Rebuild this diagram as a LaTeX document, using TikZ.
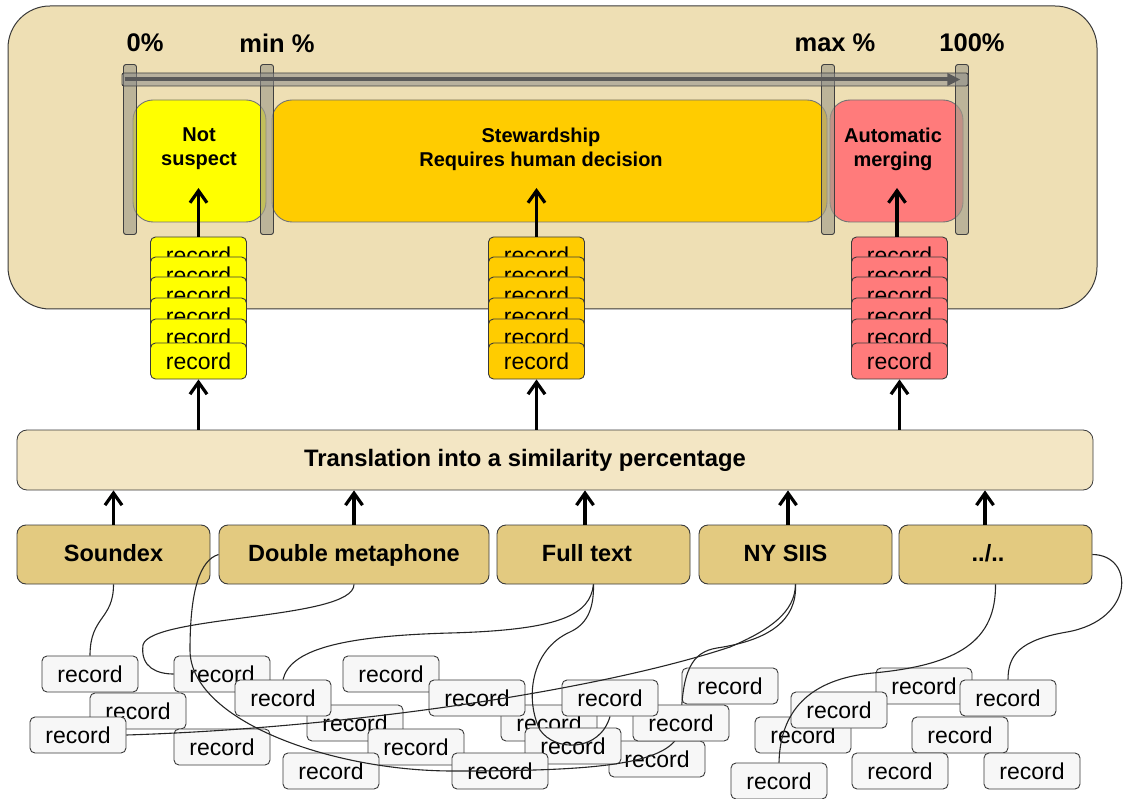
\documentclass[tikz,border=0pt]{standalone}
\usepackage{fontspec}
\setmainfont{Liberation Sans}
\usetikzlibrary{arrows.meta,calc}
\pgfdeclarelayer{front}
\pgfdeclarelayer{top}
\pgfsetlayers{main,front,top}
\definecolor{frameBeige}{HTML}{EEDFB4}
\definecolor{barBeige}{HTML}{F3E6C4}
\definecolor{methTan}{HTML}{E3CA80}
\definecolor{zoneYellow}{HTML}{FFFF00}
\definecolor{zoneOrange}{HTML}{FFCC00}
\definecolor{zoneRed}{HTML}{FF7B7B}
\definecolor{recFill}{HTML}{F7F7F7}
\definecolor{postGray}{HTML}{A29D8C}
\definecolor{edgeDark}{HTML}{3A3A3A}
\begin{document}
\begin{tikzpicture}[x=1pt,y=-1pt,
  arr/.style={line width=3.2pt,-{Straight Barb[length=12pt,width=17pt]}},
  conn/.style={draw=black!85,line width=1.1pt},
  recbox/.style={draw=edgeDark,line width=0.9pt,fill=recFill,rounded corners=5pt,
    minimum width=96pt,minimum height=36pt,inner sep=0pt,font=\fontsize{23}{27}\selectfont},
  stackcard/.style={recbox,fill=#1},
  meth/.style={draw=edgeDark,line width=0.9pt,fill=methTan,rounded corners=9pt,
    minimum height=59pt,inner sep=0pt,text height=17pt,text depth=4pt,
    font=\bfseries\fontsize{23.5}{27}\selectfont},
  zone/.style={draw=black!55,line width=0.9pt,fill=#1,rounded corners=20pt,
    minimum height=122pt,inner sep=0pt},
  post/.style={draw=black!75,line width=0.9pt,fill=postGray,fill opacity=0.65,
    rounded corners=2.5pt,minimum width=13pt,minimum height=170pt,inner sep=0pt},
  axlab/.style={font=\bfseries\fontsize{25.5}{30}\selectfont,inner sep=0pt},
  ztext/.style={font=\bfseries\fontsize{20}{24}\selectfont,align=center,inner sep=0pt}
]
\useasboundingbox (0,0) rectangle (1126,799);

% outer frame
\node[draw=edgeDark,line width=1pt,fill=frameBeige,rounded corners=42pt,
  minimum width=1089pt,minimum height=303pt,inner sep=0pt] (frame) at (552.5,157.5) {};

% zones
\node[zone=zoneYellow,minimum width=133pt] (zns) at (199.5,161) {};
\node[zone=zoneOrange,minimum width=555pt] (zst) at (549.5,161) {};
\node[zone=zoneRed,minimum width=133pt] (zam) at (896.5,161) {};

% posts
\node[post] (p0) at (130,149.5) {};
\node[post] (p1) at (267,149.5) {};
\node[post] (p2) at (828,149.5) {};
\node[post] (p3) at (962,149.5) {};

% axis bar
\node[draw=black!75,line width=0.9pt,fill=black!45,fill opacity=0.55,rounded corners=2pt,
  minimum width=846pt,minimum height=13pt,inner sep=0pt] (axis) at (545,79.5) {};
\draw[line width=4pt,black!65,-{Triangle[length=13pt,width=12pt]}]
  ($(axis.west)+(3,0)$) -- ($(axis.east)+(-8,0)$);

% axis labels
\node[axlab] (l0) at (145,43) {0\%};
\node[axlab] (lmin) at (277,43) {min \%};
\node[axlab] (lmax) at (835,43) {max \%};
\node[axlab] (l100) at (972,43) {100\%};

% zone texts
\node[ztext] (tns) at (199,149) {Not\\suspect};
\node[ztext] (tst) at (541,149) {Stewardship\\Requires human decision};
\node[ztext] (tam) at (893,149) {Automatic\\merging};

% stacks
\foreach \i/\y in {1/255,2/275,3/295,4/316,5/337,6/361}{
  \node[stackcard=zoneYellow] (ys\i) at (198.5,\y) {record};
  \node[stackcard=zoneOrange] (os\i) at (536.5,\y) {record};
  \node[stackcard=zoneRed] (rs\i) at (899.5,\y) {record};
}

% arrows stacks -> zones
\coordinate (tipY) at (198.5,188);
\coordinate (tipO) at (536.5,188);
\coordinate (tipR) at (897,188);
\draw[arr] (ys1.north) -- (tipY);
\draw[arr] (os1.north) -- (tipO);
\draw[arr] (rs1.north -| tipR) -- (tipR);

% translation bar
\node[draw=edgeDark,line width=0.8pt,fill=barBeige,rounded corners=10pt,
  minimum width=1076pt,minimum height=60pt,inner sep=0pt] (tr) at (555,460) {};
\node[font=\bfseries\fontsize{23.8}{27}\selectfont,inner sep=0pt] (trtext) at (525,460)
  {Translation into a similarity percentage};

\draw[arr] (tr.north -| ys6.south) -- (ys6.south);
\draw[arr] (tr.north -| os6.south) -- (os6.south);
\draw[arr] (tr.north -| rs6.south) -- (rs6.south);

% methods
\node[meth,minimum width=193pt] (m1) at (113.5,554.5) {Soundex};
\node[meth,minimum width=270pt] (m2) at (354,554.5) {Double metaphone};
\node[meth,minimum width=193pt] (m3) at (593.5,554.5) {Full text\hspace*{13pt}};
\node[meth,minimum width=193pt] (m4) at (795.5,554.5) {NY SIIS\hspace*{20pt}};
\node[meth,minimum width=193pt] (m5) at (995.5,554.5) {../..\hspace*{15pt}};

\coordinate (a3) at (585,0);
\coordinate (a4) at (788,0);
\coordinate (a5) at (985,0);
\draw[arr] (m1.north) -- (m1.north |- tr.south);
\draw[arr] (m2.north) -- (m2.north |- tr.south);
\draw[arr] (m3.north -| a3) -- (tr.south -| a3);
\draw[arr] (m4.north -| a4) -- (tr.south -| a4);
\draw[arr] (m5.north -| a5) -- (tr.south -| a5);

% records (main layer, drawing order = stacking)
\node[recbox] (r1) at (90,674) {record};
\node[recbox] (r2) at (138,711) {record};
\node[recbox] (r3) at (78,735) {record};
\node[recbox] (r4) at (222,674) {record};
\node[recbox] (r8) at (355,723) {record};
\node[recbox] (r5) at (283,698) {record};
\node[recbox] (r6) at (222,747) {record};
\node[recbox] (r9) at (391,674) {record};
\node[recbox] (r10) at (416,747) {record};
\node[recbox] (r7) at (331,771) {record};
\node[recbox] (r12) at (549,723) {record};
\node[recbox] (r11) at (477,698) {record};
\node[recbox] (r16) at (657,759) {record};
\node[recbox] (r14) at (573,746) {record};
\node[recbox] (r13) at (500,771) {record};
\node[recbox] (r18) at (730,686) {record};
\node[recbox] (r19) at (803,735) {record};
\node[recbox] (r22) at (924,686) {record};
\node[recbox] (r20) at (839,710) {record};
\node[recbox] (r21) at (779,781) {record};
\node[recbox] (r23) at (1008,698) {record};
\node[recbox] (r24) at (960,735) {record};
\node[recbox] (r25) at (900,771) {record};
\node[recbox] (r26) at (1032,771) {record};

\begin{pgfonlayer}{front}
\node[recbox] (r17) at (681,723) {record};
\node[recbox] (r15) at (610,698) {record};
\end{pgfonlayer}

% connectors passing under r17
\draw[conn] (m2.west) .. controls (200,560) and (190,590) .. (190,650)
  .. controls (190,720) and (330,771) .. (453,771)
  .. controls (600,771) and (682,765) .. (r17.center);
\draw[conn] (m4.south) .. controls (797,620) and (770,640) .. (717,648)
  .. controls (692,652) and (682,670) .. (r17.center);

\begin{pgfonlayer}{top}
\draw[conn] (m1.south) .. controls (113.5,620) and (90,616) .. (r1.north);
\draw[conn] (m2.south) .. controls (354,620) and (150,615) .. (143,645)
  .. controls (140,668) and (158,674) .. (r4.west);
\draw[conn] (m3.south) .. controls (590,615) and (560,630) .. (450,633)
  .. controls (340,636) and (290,650) .. (r5.north);
\draw[conn] (m3.south) .. controls (594,612) and (585,625) .. (570,632)
  .. controls (530,650) and (525,700) .. (540,730)
  .. controls (555,752) and (600,752) .. (r15.south);
\draw[conn] (m4.south) .. controls (795,612) and (770,630) .. (730,647)
  .. controls (600,690) and (350,728) .. (r3.east);
\draw[conn] (m5.south) .. controls (996,640) and (960,665) .. (873,673)
  .. controls (800,680) and (780,720) .. (r21.north);
\draw[conn] (m5.east) .. controls (1135,555) and (1135,620) .. (1067,632)
  .. controls (1020,640) and (1008,655) .. (r23.north);
\end{pgfonlayer}
\end{tikzpicture}
\end{document}
